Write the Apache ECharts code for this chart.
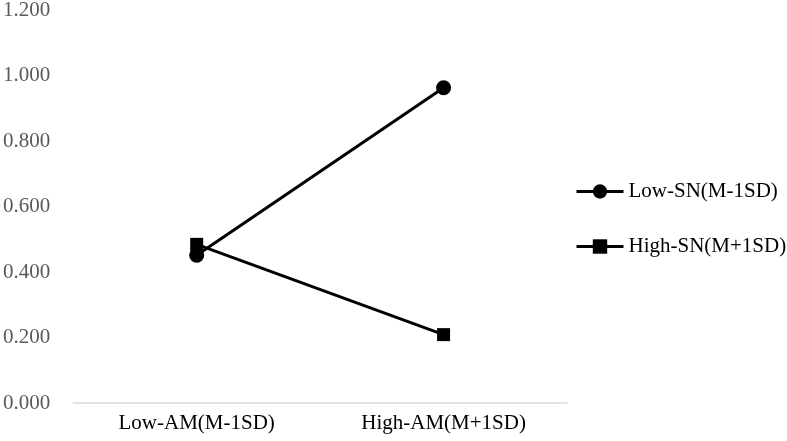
<!DOCTYPE html>
<html>
<head>
<meta charset="utf-8">
<script src="https://cdn.jsdelivr.net/npm/echarts@6/dist/echarts.min.js"></script>
<style>
html,body{margin:0;padding:0;background:#fff;}
#main{width:787px;height:441px;}
</style>
</head>
<body>
<div id="main"></div>
<script>
// 类别与数据
var categories = ['Low-AM(M-1SD)', 'High-AM(M+1SD)'];
var seriesNames = ['Low-SN(M-1SD)', 'High-SN(M+1SD)'];
var lowSN = [0.452, 0.964];
var highSN = [0.485, 0.209];
var yTicks = [0, 0.2, 0.4, 0.6, 0.8, 1.0, 1.2];

var myChart = echarts.init(document.getElementById('main'));
var font = '"Liberation Serif", "Times New Roman", serif';
var option = {
    backgroundColor: '#fff',
    animation: false,
    grid: {
        left: 68,
        right: 220,
        top: 7,
        bottom: 38
    },
    legend: {
        orient: 'vertical',
        left: 570,
        top: 176,
        itemWidth: 47,
        itemHeight: 18,
        itemGap: 34,
        data: seriesNames,
        lineStyle: {width: 3, color: '#000'},
        textStyle: {
            fontFamily: font,
            fontSize: 21,
            color: '#000'
        }
    },
    xAxis: {
        type: 'category',
        data: categories,
        boundaryGap: true,
        axisLine: {show: true, lineStyle: {color: '#d9d9d9', width: 1.5}},
        axisTick: {show: false},
        axisLabel: {
            fontFamily: font,
            fontSize: 21,
            color: '#000',
            margin: 10
        }
    },
    yAxis: {
        type: 'value',
        min: yTicks[0],
        max: yTicks[yTicks.length - 1],
        interval: 0.2,
        axisLine: {show: false},
        axisTick: {show: false},
        splitLine: {show: false},
        axisLabel: {
            fontFamily: font,
            fontSize: 21,
            color: '#595959',
            margin: 23,
            formatter: function (v) { return v.toFixed(3); }
        }
    },
    series: [
        {
            name: seriesNames[0],
            type: 'line',
            data: lowSN,
            symbol: 'circle',
            symbolSize: 15,
            itemStyle: {color: '#000'},
            lineStyle: {color: '#000', width: 3}
        },
        {
            name: seriesNames[1],
            type: 'line',
            data: highSN,
            symbol: 'rect',
            symbolSize: 13,
            itemStyle: {color: '#000'},
            lineStyle: {color: '#000', width: 3}
        }
    ]
};
myChart.setOption(option);
</script>
</body>
</html>
